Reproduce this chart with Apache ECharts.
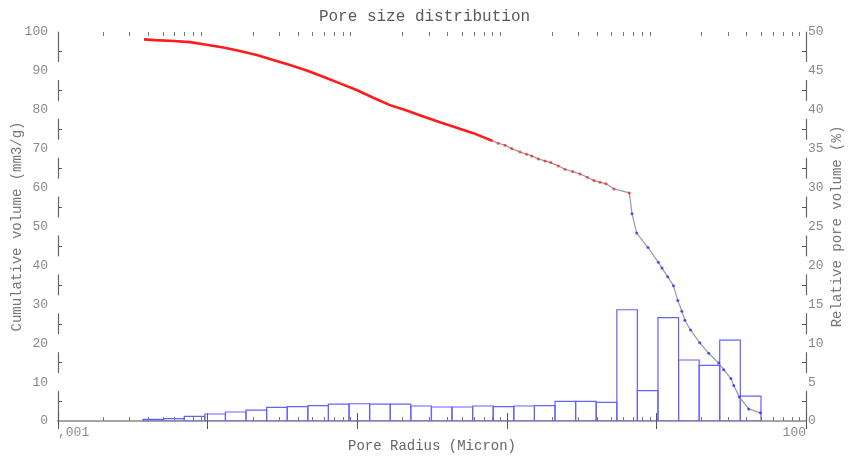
<!DOCTYPE html>
<html>
<head>
<meta charset="utf-8">
<script src="https://cdn.jsdelivr.net/npm/echarts@6/dist/echarts.min.js"></script>
<style>
  html, body { margin: 0; padding: 0; background: #fff; }
  #chart { width: 849px; height: 456px; }
</style>
</head>
<body>
<div id="chart"></div>
<script>
// Histogram bin edges (pore radius, micron) and relative pore volume per bin (%)
const binEdges = [0.0037, 0.00508, 0.00698, 0.00958, 0.01316, 0.01807, 0.02481, 0.03407,
  0.04678, 0.0642, 0.0882, 0.1211, 0.1663, 0.2283, 0.3135, 0.4304, 0.591, 0.8115,
  1.114, 1.53, 2.10, 2.884, 3.96, 5.44, 7.46, 10.25, 14.07, 19.32, 26.5, 36.4, 50.0];
const relVolume = [0.22, 0.3, 0.6, 0.9, 1.16, 1.41, 1.76, 1.84, 1.97, 2.18, 2.22, 2.18,
  2.18, 1.93, 1.8, 1.8, 1.93, 1.85, 1.93, 1.97, 2.52, 2.52, 2.4, 14.3, 3.9, 13.3,
  7.84, 7.15, 10.4, 3.2];

// Cumulative volume (mm3/g) vs pore radius: densely sampled fine-pore part
const radiusFine = [0.00376, 0.00445, 0.0059, 0.00763, 0.00986, 0.01274, 0.01647, 0.0213,
  0.02748, 0.03556, 0.046, 0.0593, 0.0767, 0.0992, 0.1281, 0.1657, 0.2143, 0.2766,
  0.3577, 0.4625, 0.5972, 0.7927];
const cumFine = [98.1, 97.9, 97.7, 97.4, 96.7, 96.0, 95.1, 94.1, 92.8, 91.5, 90.1, 88.5,
  86.8, 85.1, 83.1, 81.2, 79.8, 78.3, 76.8, 75.4, 74.0, 72.08];

// sparse points up to the knee
const radiusMid = [0.7927, 0.877, 0.973, 1.078, 1.225, 1.358, 1.467, 1.624, 1.800, 1.965,
  2.210, 2.449, 2.758, 3.085, 3.452, 3.827, 4.198, 4.604, 5.208, 6.59];
const cumMid = [72.08, 71.41, 70.9, 70.02, 69.18, 68.58, 68.15, 67.38, 66.86, 66.43,
  65.58, 64.73, 64.12, 63.52, 62.68, 61.80, 61.39, 60.96, 59.67, 58.64];

// coarse-pore points past the knee
const radiusCoarse = [6.87, 7.38, 8.79, 10.3, 10.9, 11.9, 13.0, 13.9, 14.8, 15.5, 16.9,
  19.5, 22.4, 26.1, 28.2, 31.5, 32.9, 35.8, 41.4, 49.6];
const cumCoarse = [53.3, 48.3, 44.6, 40.8, 39.3, 37.1, 34.8, 31.0, 28.2, 25.9, 23.4,
  20.1, 17.4, 14.9, 13.2, 10.9, 9.1, 6.2, 3.1, 2.1];

// labelled values on the cumulative axis (interior ones break the axis line)
const cumTicks = [10, 20, 30, 40, 50, 60, 70, 80, 90];

// minor tick positions on the log radius axis
const minorTicks = [];
[0.001, 0.01, 0.1, 1, 10].forEach(function (d) {
  [2, 3, 4, 5, 6, 7, 8, 9].forEach(function (m) { minorTicks.push(+(d * m).toPrecision(3)); });
});

const FONT = '"Liberation Mono", "DejaVu Sans Mono", monospace';
const LABEL_COLOR = '#8a8a8a';
const AXIS_COLOR = '#a0a0a0';

function zip(xs, ys) { return xs.map(function (x, i) { return [x, ys[i]]; }); }

const bars = relVolume.map(function (v, i) { return [binEdges[i], binEdges[i + 1], v]; });
const allPts = zip(radiusFine, cumFine)
  .concat(zip(radiusMid, cumMid).slice(1))
  .concat(zip(radiusCoarse, cumCoarse));

function isPow(v, p) { return Math.abs(Math.log10(v) - p) < 1e-6; }

const chart = echarts.init(document.getElementById('chart'), null, { renderer: 'canvas' });

const xAxisBase = {
  type: 'log',
  logBase: 10,
  min: 0.001,
  max: 100,
  axisLine: { show: true, lineStyle: { color: AXIS_COLOR, width: 1.5 } },
  axisTick: { show: true, inside: true, length: 8, lineStyle: { color: '#555', width: 1 } },
  splitLine: { show: false },
  minorTick: { show: false },
  minorSplitLine: { show: false }
};

chart.setOption({
  animation: false,
  backgroundColor: '#fff',
  title: {
    text: 'Pore size distribution',
    left: 'center',
    top: 4,
    textStyle: { fontFamily: FONT, fontSize: 16, fontWeight: 'normal', color: '#5a5a5a' }
  },
  grid: { left: 58, right: 43, top: 32, bottom: 35, containLabel: false, outerBoundsMode: 'none' },
  xAxis: [
    Object.assign({}, xAxisBase, {
      position: 'bottom',
      name: 'Pore Radius (Micron)',
      nameLocation: 'middle',
      nameGap: 18,
      nameMoveOverlap: false,
      nameTextStyle: { fontFamily: FONT, fontSize: 14, color: '#666' },
      axisLabel: {
        show: true,
        margin: 5,
        showMinLabel: true,
        showMaxLabel: true,
        alignMinLabel: 'left',
        alignMaxLabel: 'right',
        fontFamily: FONT,
        fontSize: 13,
        color: LABEL_COLOR,
        formatter: function (v) {
          if (isPow(v, -3)) return ',001';
          if (isPow(v, 2)) return '100';
          return '';
        }
      }
    }),
    Object.assign({}, xAxisBase, {
      position: 'top',
      axisLabel: { show: false }
    })
  ],
  yAxis: [
    {
      type: 'value',
      min: 0,
      max: 100,
      interval: 10,
      position: 'left',
      name: 'Cumulative volume (mm3/g)',
      nameLocation: 'middle',
      nameRotate: 90,
      nameGap: 34,
      nameMoveOverlap: false,
      nameTextStyle: { fontFamily: FONT, fontSize: 14, color: '#777' },
      axisLine: { show: true, lineStyle: { color: '#666', width: 1.2 } },
      axisTick: { show: false, inside: true },
      minorTick: { show: true, splitNumber: 2, length: 4, lineStyle: { color: '#555' } },
      splitLine: { show: false },
      axisLabel: {
        margin: 10,
        fontFamily: FONT,
        fontSize: 13,
        color: LABEL_COLOR
      }
    },
    {
      type: 'value',
      min: 0,
      max: 50,
      interval: 5,
      position: 'right',
      name: 'Relative pore volume (%)',
      nameLocation: 'middle',
      nameRotate: 90,
      nameGap: 24,
      nameMoveOverlap: false,
      nameTextStyle: { fontFamily: FONT, fontSize: 14, color: '#777' },
      axisLine: { show: true, lineStyle: { color: '#666', width: 1.2 } },
      axisTick: { show: false, inside: true },
      minorTick: { show: true, splitNumber: 2, length: 4, lineStyle: { color: '#555' } },
      splitLine: { show: false },
      axisLabel: {
        margin: 2,
        fontFamily: FONT,
        fontSize: 13,
        color: LABEL_COLOR
      }
    }
  ],
  series: [
    {
      // white breaks in both vertical axis lines beside each interior label
      type: 'custom',
      xAxisIndex: 0,
      yAxisIndex: 0,
      encode: { y: 0 },
      clip: false,
      silent: true,
      z: 1,
      data: cumTicks.map(function (v) { return [v]; }),
      renderItem: function (params, api) {
        const cs = params.coordSys;
        const py = api.coord([1, api.value(0)])[1];
        const st = { fill: '#fff' };
        return {
          type: 'group',
          children: [
            { type: 'rect', shape: { x: cs.x - 2, y: py - 9, width: 4, height: 18 }, style: st },
            { type: 'rect', shape: { x: cs.x + cs.width - 2, y: py - 9, width: 4, height: 18 }, style: st }
          ]
        };
      }
    },
    {
      // histogram of relative pore volume, outlined bins
      type: 'custom',
      xAxisIndex: 0,
      yAxisIndex: 1,
      encode: { x: [0, 1], y: 2 },
      clip: true,
      z: 2,
      data: bars,
      renderItem: function (params, api) {
        const p0 = api.coord([api.value(0), 0]);
        const p1 = api.coord([api.value(1), api.value(2)]);
        return {
          type: 'rect',
          shape: { x: p0[0], y: p1[1], width: p1[0] - p0[0], height: p0[1] - p1[1] },
          style: { fill: 'none', stroke: '#6262ff', lineWidth: 1.2 }
        };
      }
    },
    {
      // minor ticks on bottom and top radius axes
      type: 'custom',
      xAxisIndex: 0,
      yAxisIndex: 0,
      encode: { x: 0 },
      z: 3,
      silent: true,
      data: minorTicks.map(function (t) { return [t, 0]; }),
      renderItem: function (params, api) {
        const cs = params.coordSys;
        const px = Math.round(api.coord([api.value(0), 0])[0]) + 0.5;
        const yb = cs.y + cs.height;
        const st = { stroke: '#7a7a7a', lineWidth: 1 };
        return {
          type: 'group',
          children: [
            { type: 'line', shape: { x1: px, y1: yb, x2: px, y2: yb - 4 }, style: st },
            { type: 'line', shape: { x1: px, y1: cs.y, x2: px, y2: cs.y + 4 }, style: st }
          ]
        };
      }
    },
    {
      // connecting line through all measured points
      type: 'line',
      xAxisIndex: 0,
      yAxisIndex: 0,
      data: allPts,
      showSymbol: false,
      symbol: 'none',
      lineStyle: { color: '#9a9a9a', width: 1.2 },
      z: 4
    },
    {
      type: 'line',
      xAxisIndex: 0,
      yAxisIndex: 0,
      data: zip(radiusFine, cumFine),
      symbol: 'none',
      lineStyle: { color: '#ff1c1c', width: 2.6 },
      z: 5
    },
    {
      type: 'scatter',
      xAxisIndex: 0,
      yAxisIndex: 0,
      data: zip(radiusMid, cumMid),
      symbol: 'circle',
      symbolSize: 3,
      itemStyle: { color: '#ff2a2a' },
      z: 6
    },
    {
      type: 'scatter',
      xAxisIndex: 0,
      yAxisIndex: 0,
      data: zip(radiusCoarse, cumCoarse),
      symbol: 'circle',
      symbolSize: 3,
      itemStyle: { color: '#3030ff' },
      z: 6
    }
  ]
});
</script>
</body>
</html>
